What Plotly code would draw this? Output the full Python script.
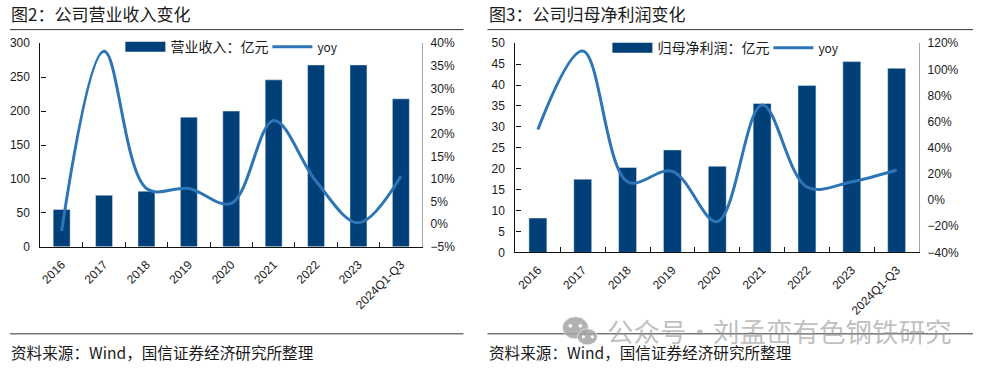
import plotly.graph_objects as go

W, H = 984, 369
years = ["2016", "2017", "2018", "2019", "2020", "2021", "2022", "2023", "2024Q1-Q3"]
revenue = [55, 76, 82, 191, 200, 246, 268, 268, 218]
revenue_yoy = [-1.5, 38.2, 7.9, 7.9, 4.6, 22.9, 9.5, 0.3, 10.6]
profit = [8.2, 17.5, 20.3, 24.5, 20.6, 35.6, 39.9, 45.6, 44]
profit_yoy = [54, 114, 14, 22, -16.5, 72.7, 10, 14, 23]
title_left = "图2：公司营业收入变化"
title_right = "图3：公司归母净利润变化"
source = "资料来源：Wind，国信证券经济研究所整理"
watermark = "公众号·刘孟峦有色钢铁研究"
name_rev = "营业收入：亿元"
name_pro = "归母净利润：亿元"
name_yoy = '<span style="font-size:12px">yoy</span>'
BAR = "#003f77"
LINE = "#2e75b6"
CJK = "Noto Sans CJK SC"
NUM = "Liberation Sans"
TXT = "#1a1a1a"


def px(x): return x / W
def py(y): return 1 - (y - 8) / 353


fig = go.Figure()
fig.add_bar(x=years, y=revenue, name=name_rev, marker_color=BAR, width=0.4, showlegend=False, xaxis="x", yaxis="y")
fig.add_scatter(x=[None], y=[None], name=name_rev, mode="lines", line=dict(color=BAR, width=10), legend="legend", xaxis="x", yaxis="y")
fig.add_scatter(x=years, y=revenue_yoy, name=name_yoy, mode="lines", line=dict(color=LINE, width=3, shape="spline", smoothing=1.0), legend="legend", xaxis="x", yaxis="y2")
fig.add_bar(x=years, y=profit, name=name_pro, marker_color=BAR, width=0.4, showlegend=False, xaxis="x2", yaxis="y3")
fig.add_scatter(x=[None], y=[None], name=name_pro, mode="lines", line=dict(color=BAR, width=10), legend="legend2", xaxis="x2", yaxis="y3")
fig.add_scatter(x=years, y=profit_yoy, name=name_yoy, mode="lines", line=dict(color=LINE, width=3, shape="spline", smoothing=1.0), legend="legend2", xaxis="x2", yaxis="y4")


def cat_axis(x0, x1, y_anchor):
    return dict(domain=[px(x0), px(x1)], anchor=y_anchor, type="category", categoryorder="array", categoryarray=years,
                range=[-0.5, 8.5], tickson="boundaries", ticks="inside", ticklen=5, tickcolor="#111", tickwidth=1,
                showline=True, linecolor="#111", linewidth=1.2, showgrid=False, tickangle=-45, ticklabelstandoff=5,
                tickfont=dict(family=NUM, size=12, color=TXT))


def left_axis(y0, y1, xa, rng, dtick):
    return dict(domain=[py(y1), py(y0)], anchor=xa, range=rng, dtick=dtick, ticks="inside", ticklen=5, tickcolor="#111",
                showline=True, linecolor="#111", linewidth=1.2, showgrid=False, zeroline=False, ticklabelstandoff=7,
                tickfont=dict(family=NUM, size=12, color=TXT))


def right_axis(y0, y1, xa, over, rng, dtick):
    return dict(domain=[py(y1), py(y0)], anchor=xa, overlaying=over, side="right", range=rng, dtick=dtick, ticksuffix="%",
                ticks="", showline=True, linecolor="#a6a6a6", linewidth=1.2, showgrid=False, zeroline=False, ticklabelstandoff=5,
                tickfont=dict(family=NUM, size=12, color=TXT))


LY0, LY1 = 44, 246.5
RY0, RY1 = 44, 252
fig.update_layout(
    width=W, height=H, margin=dict(l=0, r=0, t=0, b=0), paper_bgcolor="white", plot_bgcolor="rgba(0,0,0,0)",
    bargap=0.6, barmode="overlay",
    xaxis=cat_axis(39.5, 421.5, "y"),
    yaxis=left_axis(LY0, LY1, "x", [0, 300], 50),
    yaxis2=right_axis(LY0, LY1, "x", "y", [-5, 40], 5),
    xaxis2=cat_axis(515, 919, "y3"),
    yaxis3=left_axis(RY0, RY1, "x2", [0, 50], 5),
    yaxis4=right_axis(RY0, RY1, "x2", "y3", [-40, 120], 20),
    legend=dict(orientation="h", x=px(119.5), y=py(32), xanchor="left", yanchor="top", bgcolor="rgba(0,0,0,0)",
                font=dict(family=CJK, size=14, color=TXT), itemwidth=40, entrywidth=92, tracegroupgap=0),
    legend2=dict(orientation="h", x=px(607), y=py(33), xanchor="left", yanchor="top", bgcolor="rgba(0,0,0,0)",
                 font=dict(family=CJK, size=14, color=TXT), itemwidth=40, entrywidth=106, tracegroupgap=0),
    showlegend=True,
)

for x, t in [(8, title_left), (486, title_right)]:
    fig.add_annotation(text=t, x=px(x), y=py(14), xref="paper", yref="paper", xanchor="left", yanchor="middle",
                       showarrow=False, font=dict(family=CJK, size=17, color=TXT))
for x, t in [(8, source), (486, source)]:
    fig.add_annotation(text=t, x=px(x), y=py(351.5), xref="paper", yref="paper", xanchor="left", yanchor="middle",
                       showarrow=False, font=dict(family=CJK, size=15.6, color=TXT))
for x0, x1 in [(9, 463), (487, 973)]:
    for y in (30.5, 333):
        fig.add_shape(type="line", xref="paper", yref="paper", x0=px(x0), x1=px(x1), y0=py(y), y1=py(y),
                      line=dict(color="#333333", width=1))

fig.add_annotation(text=watermark, x=px(605), y=py(330), xref="paper", yref="paper", xanchor="left", yanchor="middle",
                   showarrow=False, font=dict(family=CJK, size=26.5, color="rgba(150,150,150,0.62)"))
for cx, cy, rx, ry, col in [(575, 327, 13, 11, "rgba(165,165,165,0.85)"), (587, 336, 10, 8, "rgba(165,165,165,0.85)"),
                            (570, 325, 1.6, 1.6, "white"), (580, 325, 1.6, 1.6, "white"),
                            (583, 336, 1.3, 1.3, "white"), (592, 336, 1.3, 1.3, "white")]:
    fig.add_shape(type="circle", xref="paper", yref="paper", x0=px(cx - rx), x1=px(cx + rx), y0=py(cy - ry), y1=py(cy + ry),
                  fillcolor=col, line=dict(color="white", width=0.6))

post = "document.documentElement.style.overflow='hidden';document.body.style.margin='0';window.dispatchEvent(new Event('resize'));"
fig.write_html("out.html", post_script=post, config={"displayModeBar": False})
